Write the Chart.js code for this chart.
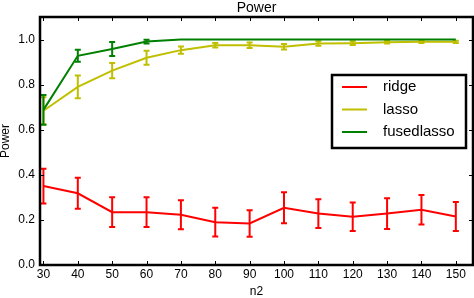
<!DOCTYPE html>
<html>
<head>
<meta charset="utf-8">
<script src="https://cdn.jsdelivr.net/npm/chart.js@4.4.1/dist/chart.umd.min.js"></script>
<style>
  html, body { margin: 0; padding: 0; background: #fff; }
</style>
</head>
<body>
<canvas id="chart" width="474" height="298"></canvas>
<script>
const n2 = [30, 40, 50, 60, 70, 80, 90, 100, 110, 120, 130, 140, 150];

const ridge = [0.35, 0.318, 0.234, 0.234, 0.223, 0.19, 0.184, 0.254, 0.228, 0.214, 0.228, 0.245, 0.215];
const ridgeErr = [0.077, 0.069, 0.066, 0.066, 0.064, 0.064, 0.059, 0.069, 0.064, 0.063, 0.068, 0.065, 0.064];

const lasso = [0.684, 0.79, 0.862, 0.919, 0.953, 0.975, 0.975, 0.968, 0.982, 0.984, 0.988, 0.99, 0.99];
const lassoErr = [0.06, 0.05, 0.034, 0.031, 0.016, 0.01, 0.012, 0.012, 0.01, 0.008, 0.006, 0.005, 0.005];

const fused = [0.688, 0.928, 0.958, 0.991, 1.0, 1.0, 1.0, 1.0, 1.0, 1.0, 1.0, 1.0, 1.0];
const fusedErr = [0.066, 0.027, 0.031, 0.008, 0, 0, 0, 0, 0, 0, 0, 0, 0];

const xTicks = [30, 40, 50, 60, 70, 80, 90, 100, 110, 120, 130, 140, 150];
const yTicks = [0.0, 0.2, 0.4, 0.6, 0.8, 1.0];

const FONT = "'Liberation Sans', Arial, sans-serif";
Chart.defaults.font.family = FONT;
Chart.defaults.font.size = 12;
Chart.defaults.color = "#000";

function series(label, values, errors, color, order) {
  return {
    label: label,
    data: n2.map((x, i) => ({ x: x, y: values[i] })),
    errors: errors,
    borderColor: color,
    backgroundColor: color,
    borderWidth: 2,
    pointRadius: 0,
    tension: 0,
    order: order,
  };
}

// error bars, frame, inward ticks, titles and legend box
const decorations = {
  id: "decorations",
  afterDatasetDraw(chart, args) {
    const ds = chart.data.datasets[args.index];
    const xs = chart.scales.x, ys = chart.scales.y;
    const ctx = chart.ctx;
    ctx.save();
    ctx.strokeStyle = ds.borderColor;
    ctx.lineWidth = 2;
    ds.data.forEach((p, i) => {
      const e = ds.errors[i];
      if (!e) return;
      const px = xs.getPixelForValue(p.x);
      const top = ys.getPixelForValue(p.y + e);
      const bot = ys.getPixelForValue(p.y - e);
      ctx.beginPath();
      ctx.moveTo(px, top); ctx.lineTo(px, bot);
      ctx.moveTo(px - 3, top); ctx.lineTo(px + 3, top);
      ctx.moveTo(px - 3, bot); ctx.lineTo(px + 3, bot);
      ctx.stroke();
    });
    ctx.restore();
  },
  afterDraw(chart) {
    const ctx = chart.ctx;
    const a = chart.chartArea;
    const xs = chart.scales.x, ys = chart.scales.y;
    ctx.save();

    // inward ticks on all four sides
    ctx.strokeStyle = "#000";
    ctx.lineWidth = 1;
    ctx.beginPath();
    xTicks.forEach(v => {
      const px = Math.round(xs.getPixelForValue(v)) + 0.5;
      ctx.moveTo(px, a.bottom); ctx.lineTo(px, a.bottom - 4);
      ctx.moveTo(px, a.top); ctx.lineTo(px, a.top + 4);
    });
    yTicks.forEach(v => {
      const py = Math.round(ys.getPixelForValue(v)) + 0.5;
      ctx.moveTo(a.left, py); ctx.lineTo(a.left + 4, py);
      ctx.moveTo(a.right, py); ctx.lineTo(a.right - 4, py);
    });
    ctx.stroke();

    // frame
    ctx.lineWidth = 2.5;
    ctx.strokeRect(a.left, a.top, a.right - a.left, a.bottom - a.top);

    // titles
    ctx.fillStyle = "#000";
    ctx.textAlign = "center";
    ctx.textBaseline = "middle";
    ctx.font = "14px " + FONT;
    ctx.fillText("Power", (a.left + a.right) / 2, 8);
    ctx.font = "12px " + FONT;
    ctx.fillText("n2", (a.left + a.right) / 2, 292);
    ctx.save();
    ctx.translate(6, (a.top + a.bottom) / 2);
    ctx.rotate(-Math.PI / 2);
    ctx.fillText("Power", 0, 0);
    ctx.restore();

    // legend
    const lx = 332, ly = 75, lw = 134, lh = 73;
    ctx.fillStyle = "#fff";
    ctx.fillRect(lx, ly, lw, lh);
    ctx.lineWidth = 2.5;
    ctx.strokeStyle = "#000";
    ctx.strokeRect(lx, ly, lw, lh);
    ctx.font = "15px " + FONT;
    ctx.textAlign = "left";
    const legendOrder = [0, 1, 2];
    legendOrder.forEach((idx, k) => {
      const ds = chart.data.datasets[idx];
      const y = 87 + k * 22.5;
      ctx.strokeStyle = ds.borderColor;
      ctx.lineWidth = 2;
      ctx.beginPath();
      ctx.moveTo(342, y); ctx.lineTo(367, y);
      ctx.stroke();
      ctx.fillStyle = "#000";
      ctx.fillText(ds.label, 383, y);
    });
    ctx.restore();
  },
};

new Chart(document.getElementById("chart"), {
  type: "line",
  data: {
    datasets: [
      series("ridge", ridge, ridgeErr, "#ff0000", 2),
      series("lasso", lasso, lassoErr, "#bfbf00", 1),
      series("fusedlasso", fused, fusedErr, "#008000", 0),
    ],
  },
  options: {
    responsive: false,
    animation: false,
    layout: { padding: { top: 17, right: 1, left: 0, bottom: 0 } },
    plugins: { legend: { display: false }, tooltip: { enabled: false } },
    scales: {
      x: {
        type: "linear",
        min: 29,
        max: 155,
        grid: { display: false, drawTicks: false },
        border: { display: false },
        afterBuildTicks: (s) => { s.ticks = xTicks.map(v => ({ value: v })); },
        afterFit: (s) => { s.height = 33; },
        ticks: { padding: 2, maxRotation: 0, autoSkip: false, callback: (v) => String(v) },
      },
      y: {
        min: 0,
        max: 1.1,
        grid: { display: false, drawTicks: false },
        border: { display: false },
        afterBuildTicks: (s) => { s.ticks = yTicks.map(v => ({ value: v })); },
        afterFit: (s) => { s.width = 40; },
        ticks: { padding: 5, callback: (v) => v.toFixed(1) },
      },
    },
  },
  plugins: [decorations],
});
</script>
</body>
</html>
